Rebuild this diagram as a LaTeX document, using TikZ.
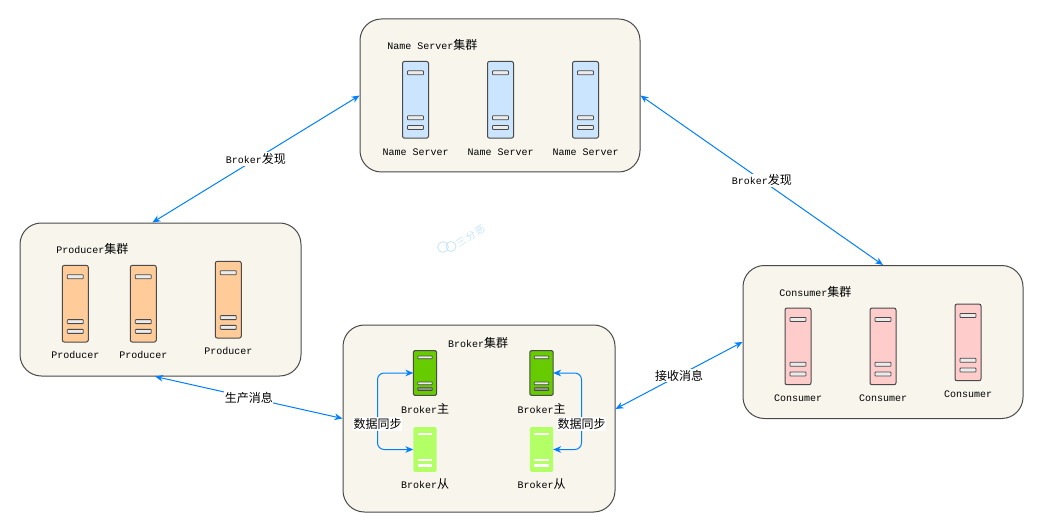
\documentclass[tikz,border=0pt]{standalone}
\usepackage{fontspec}
\usepackage{xcolor}
\usetikzlibrary{arrows.meta,positioning}
\setmainfont{Liberation Mono}
\newfontfamily\cjk{Noto Sans CJK SC}[Scale=1.2]
\newcommand{\cn}[1]{{\cjk #1}}
\definecolor{cPanel}{HTML}{f8f5ec}
\definecolor{cLine}{HTML}{4a4a4a}
\definecolor{cArrow}{HTML}{007fff}
\definecolor{cName}{HTML}{cce5ff}
\definecolor{cProd}{HTML}{ffcc99}
\definecolor{cCons}{HTML}{ffcccc}
\definecolor{cMain}{HTML}{66cc00}
\definecolor{cCopy}{HTML}{b3ff66}
\definecolor{cMark}{HTML}{c4e3f7}
\tikzset{
  panel/.style={rounded corners=16pt,draw=cLine,fill=cPanel,line width=.75pt,
                minimum width=#1,inner sep=0pt},
  tall/.style={rounded corners=1.5pt,draw=cLine,line width=.75pt,
               minimum width=19.5pt,minimum height=57.5pt,inner sep=0pt,outer sep=0pt},
  short/.style={rounded corners=1pt,line width=.75pt,
                minimum width=17.5pt,minimum height=33.5pt,inner sep=0pt,outer sep=0pt},
  slot/.style={rounded corners=.5pt,draw=cLine,fill=white!92!black,line width=.6pt,
               minimum width=12pt,minimum height=3pt,inner sep=0pt,outer sep=0pt},
  thin slot/.style={minimum width=11pt,minimum height=2pt,inner sep=0pt,outer sep=0pt},
  txt/.style={text=black,font=\fontsize{7.5}{9}\selectfont,inner sep=0pt,text height=7.5pt,text depth=.5pt},
  lab/.style={txt,fill=white,inner xsep=.5pt,inner ysep=1pt},
  link/.style={{Stealth[length=6pt,width=5pt]}-{Stealth[length=6pt,width=5pt]},cArrow,line width=.75pt},
  sync/.style={-{Stealth[length=6pt,width=5pt]},cArrow,line width=.75pt,rounded corners=5pt},
}
\begin{document}
\begin{tikzpicture}[x=.75pt,y=-.75pt]
  \useasboundingbox (0,0) rectangle (1045,531);
  % panels
  \node[panel=210pt,minimum height=114.75pt](nameset) at (500,95.5){};
  \node[panel=210.75pt,minimum height=114.75pt](prodset) at (160.5,299.5){};
  \node[panel=210pt,minimum height=114.75pt](consset) at (883,342){};
  \node[panel=204pt,minimum height=140.25pt](brokset) at (479,418.5){};
  % titles
  \node[txt,anchor=west](nametitle) at (387,45){Name Server\cn{集群}};
  \node[txt,anchor=west](prodtitle) at (56,249){Producer\cn{集群}};
  \node[txt,anchor=west](constitle) at (779,292){Consumer\cn{集群}};
  \node[txt](broktitle) at (478,343){Broker\cn{集群}};
  % tall servers
  \foreach \i/\x in {1/415.5,2/500.5,3/585.5}{
    \node[tall,fill=cName](ns\i) at (\x,99.8){};
    \node[txt,below=5pt of ns\i](nslab\i){Name Server};
  }
  \foreach \i/\x/\y in {1/75.3/303.7,2/143.3/303.7,3/228.3/299.7}{
    \node[tall,fill=cProd](pr\i) at (\x,\y){};
    \node[txt,below=5pt of pr\i](prlab\i){Producer};
  }
  \foreach \i/\x/\y in {1/798/346.4,2/883/346.4,3/968/342.4}{
    \node[tall,fill=cCons](co\i) at (\x,\y){};
    \node[txt,below=5pt of co\i](colab\i){Consumer};
  }
  \foreach \s in {ns1,ns2,ns3,pr1,pr2,pr3,co1,co2,co3}{
    \node[slot,below=7pt of \s.north](\s a){};
    \node[slot,below=40.7pt of \s.north](\s b){};
    \node[slot,below=48pt of \s.north](\s c){};
  }
  % broker servers
  \foreach \i/\x in {1/425,2/541.5}{
    \node[short,draw=cLine,fill=cMain](ma\i) at (\x,373){};
    \node[short,fill=cCopy](sl\i) at (\x,449.5){};
    \node[txt,below=5.8pt of ma\i](malab\i){Broker\cn{主}};
    \node[txt,below=5.15pt of sl\i](sllab\i){Broker\cn{从}};
    \node[slot,thin slot,below=4pt of ma\i.north](ma\i a){};
    \node[slot,thin slot,below=23.5pt of ma\i.north](ma\i b){};
    \node[slot,thin slot,fill=gray!85,below=27.8pt of ma\i.north](ma\i c){};
    \node[thin slot,fill=white,below=4pt of sl\i.north](sl\i a){};
    \node[thin slot,fill=white,below=23.5pt of sl\i.north](sl\i b){};
    \node[thin slot,fill=white,below=27.5pt of sl\i.north](sl\i c){};
  }
  % links between the sets
  \draw[link] (nameset.west)--(prodset.96)
     node[lab,midway](findl){Broker\cn{发现}};
  \draw[link] (nameset.east)--(consset.north)
     node[lab,midway](findr){Broker\cn{发现}};
  \draw[link] (prodset.-94)--(brokset.west)
     node[lab,midway](sendl){\cn{生产消息}};
  \draw[link] (brokset.4)--(consset.west)
     node[lab,midway](takel){\cn{接收消息}};
  % sync inside the broker set
  \node[lab](syncl) at (377.5,424){\cn{数据同步}};
  \node[lab](syncr) at (581.5,424){\cn{数据同步}};
  \draw[sync] (syncl.north) |- (ma1.west);
  \draw[sync] (syncl.south) |- (sl1.west);
  \draw[sync] (syncr.north) |- (ma2.east);
  \draw[sync] (syncr.south) |- (sl2.east);
  % watermark
  \node[circle,draw=cMark,line width=.6pt,inner sep=0pt,minimum size=8pt](markl) at (443,247){};
  \node[circle,draw=cMark,line width=.6pt,inner sep=0pt,minimum size=7.5pt](markr) at (451,246.5){};
  \node[txt,text=cMark,font=\fontsize{6}{8}\selectfont,rotate=33](markt) at (470,235){\cn{三\kern1.2pt 分\kern1.2pt 恶}};
\end{tikzpicture}
\end{document}
